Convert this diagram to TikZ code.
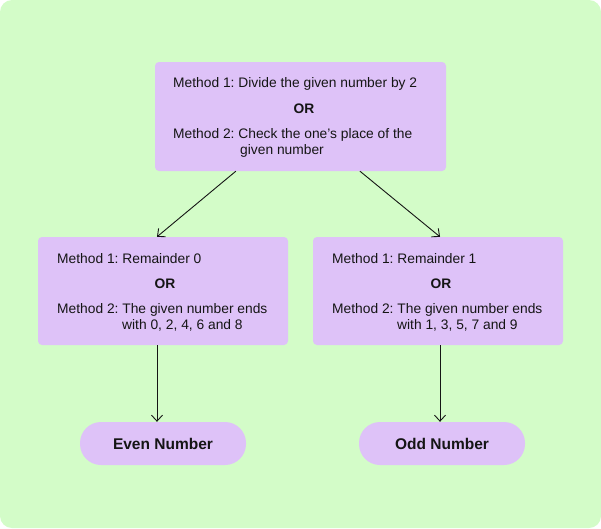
\documentclass[tikz,border=0pt]{standalone}
\usepackage{fontspec}
\setmainfont{Liberation Sans}
\usetikzlibrary{calc,arrows.meta}
\definecolor{bggreen}{HTML}{D3FCC8}
\definecolor{lav}{HTML}{DEC2F8}
\definecolor{ink}{HTML}{151515}
\frenchspacing
\tikzset{
  box/.style={fill=lav, draw=none, rounded corners=4pt, inner sep=0pt},
  pill/.style={fill=lav, draw=none, rounded corners=21pt, inner sep=0pt, minimum width=166pt, minimum height=43pt},
  txt/.style={anchor=base west, inner sep=0pt, text=ink, font=\fontsize{13.8pt}{16pt}\selectfont},
  ortxt/.style={anchor=base, inner sep=0pt, text=ink, font=\fontsize{13.8pt}{16pt}\selectfont\bfseries},
  pilltxt/.style={anchor=base, inner sep=0pt, text=ink, font=\fontsize{15.5pt}{18pt}\selectfont\bfseries},
  arr/.style={draw=ink, line width=0.9pt, -{Straight Barb[length=6pt,width=11pt]}}
}
\begin{document}
\begin{tikzpicture}[x=1pt,y=-1pt]
\useasboundingbox (0,0) rectangle (601,528);
\fill[bggreen, rounded corners=12pt] (0,0) rectangle (601,528);
% boxes
\node[box, minimum width=291pt, minimum height=109pt] (top) at (300.5,116.5) {};
\node[box, minimum width=250pt, minimum height=108pt] (left) at (163,291) {};
\node[box, minimum width=250pt, minimum height=108pt] (right) at (438,291) {};
\node[pill] (even) at (163,443.5) {};
\node[pill] (odd) at (442,443.5) {};
% top texts
\node[txt] (t1) at (173,87) {Method 1: Divide the given number by 2};
\node[ortxt] (t2) at (304,113) {OR};
\node[txt] (t3) at (173,138) {Method 2: Check the one’s place of the};
\node[txt] (t4) at (240,154) {given number};
% left texts
\node[txt] (l1) at (57,263) {Method 1: Remainder 0};
\node[ortxt] (l2) at (165,288) {OR};
\node[txt] (l3) at (57,313) {Method 2: The given number ends};
\node[txt] (l4) at (122,329) {with 0, 2, 4, 6 and 8};
% right texts
\node[txt] (r1) at (332,263) {Method 1: Remainder 1};
\node[ortxt] (r2) at (441,288) {OR};
\node[txt] (r3) at (332,313) {Method 2: The given number ends};
\node[txt] (r4) at (397,329) {with 1, 3, 5, 7 and 9};
% pill texts
\node[pilltxt] (e1) at (163,449) {Even Number};
\node[pilltxt] (o1) at (442,449) {Odd Number};
% arrows
\coordinate (ts1) at ($(top.south west)!0.278!(top.south east)$);
\coordinate (ts2) at ($(top.south west)!0.704!(top.south east)$);
\coordinate (ln) at ($(left.north west)!0.476!(left.north east)$);
\coordinate (rn) at ($(right.north west)!0.508!(right.north east)$);
\draw[arr] (ts1) -- (ln);
\draw[arr] (ts2) -- (rn);
\coordinate (ls) at ($(left.south west)!0.476!(left.south east)$);
\coordinate (rs) at ($(right.south west)!0.508!(right.south east)$);
\draw[arr] (ls) -- (ls |- even.north);
\draw[arr] (rs) -- (rs |- odd.north);
\end{tikzpicture}
\end{document}
